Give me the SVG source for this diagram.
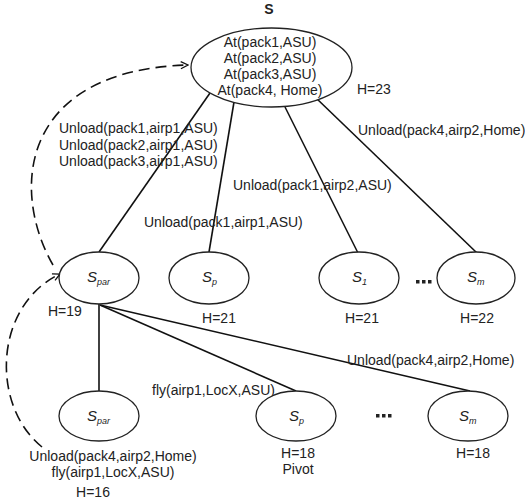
<svg xmlns="http://www.w3.org/2000/svg" width="525" height="499" viewBox="0 0 525 499">
<style>
text{font-family:"Liberation Sans",Arial,sans-serif;font-size:14px;fill:#222}
.m{text-anchor:middle}
.n{fill:#fff;stroke:#222;stroke-width:1.3}
.e{stroke:#111;stroke-width:1.6;fill:none}
.d{stroke:#111;stroke-width:1.6;fill:none;stroke-dasharray:11 6}
.s{font-style:italic;font-size:15px}
.sub{font-style:italic;font-size:9px}
.dot{fill:#222}
</style>
<defs>
<marker id="ar" viewBox="0 0 10 10" refX="9" refY="5" markerWidth="9" markerHeight="9" markerUnits="userSpaceOnUse" orient="auto">
<path d="M1 1 L9 5 L1 9" fill="none" stroke="#111" stroke-width="1.4"/>
</marker>
<g id="dots"><rect class="dot" x="0" y="0" width="3.5" height="3.5"/><rect class="dot" x="6" y="0" width="3.5" height="3.5"/><rect class="dot" x="12" y="0" width="3.5" height="3.5"/></g>
</defs>
<g id="connectors">
<line class="e" x1="210" y1="93" x2="99" y2="252"/>
<line class="e" x1="234" y1="102" x2="209" y2="252"/>
<line class="e" x1="285" y1="107" x2="358" y2="253"/>
<line class="e" x1="315" y1="97" x2="477" y2="253"/>
<line class="e" x1="99" y1="304" x2="99" y2="392"/>
<line class="e" x1="100" y1="305" x2="296" y2="391"/>
<line class="e" x1="100" y1="305" x2="470" y2="391"/>
<path class="d" d="M53 265 C10 190,20 70,188 65" marker-end="url(#ar)"/>
<path class="d" d="M42 447 C-10 405,-6 305,60 274" marker-end="url(#ar)"/>
<text x="59" y="133">Unload(pack1,airp1,ASU)</text>
<text x="59" y="150">Unload(pack2,airp1,ASU)</text>
<text x="59" y="166">Unload(pack3,airp1,ASU)</text>
<text x="144" y="227">Unload(pack1,airp1,ASU)</text>
<text x="233" y="190">Unload(pack1,airp2,ASU)</text>
<text x="358" y="135">Unload(pack4,airp2,Home)</text>
<text x="152" y="395">fly(airp1,LocX,ASU)</text>
<text x="347" y="365">Unload(pack4,airp2,Home)</text>
</g>
<g id="S">
<text class="m" x="269" y="14" style="font-weight:bold">S</text>
<ellipse class="n" cx="271.5" cy="67.5" rx="80.5" ry="39.5"/>
<text class="m" x="270" y="47">At(pack1,ASU)</text>
<text class="m" x="270" y="63">At(pack2,ASU)</text>
<text class="m" x="270" y="79">At(pack3,ASU)</text>
<text class="m" x="270" y="95">At(pack4, Home)</text>
<text x="357" y="94">H=23</text>
</g>
<g id="Spar1">
<ellipse class="n" cx="99" cy="278" rx="40" ry="26"/>
<text x="87" y="282"><tspan class="s">S</tspan><tspan class="sub" dy="3">par</tspan></text>
<text x="48" y="316">H=19</text>
</g>
<g id="Sp1">
<ellipse class="n" cx="209" cy="278" rx="40" ry="26"/>
<text x="202" y="282"><tspan class="s">S</tspan><tspan class="sub" dy="3">p</tspan></text>
<text class="m" x="219" y="323">H=21</text>
</g>
<g id="S1">
<ellipse class="n" cx="359" cy="278" rx="40" ry="26"/>
<text x="352" y="282"><tspan class="s">S</tspan><tspan class="sub" dy="3">1</tspan></text>
<text class="m" x="362" y="323">H=21</text>
</g>
<use href="#dots" x="416" y="280"/>
<g id="Sm1">
<ellipse class="n" cx="476" cy="278" rx="39" ry="26"/>
<text x="467" y="282"><tspan class="s">S</tspan><tspan class="sub" dy="3">m</tspan></text>
<text class="m" x="477" y="323">H=22</text>
</g>
<g id="Spar2">
<ellipse class="n" cx="99" cy="416" rx="40" ry="25"/>
<text x="87" y="421"><tspan class="s">S</tspan><tspan class="sub" dy="3">par</tspan></text>
<text class="m" x="113" y="461">Unload(pack4,airp2,Home)</text>
<text class="m" x="113" y="477">fly(airp1,LocX,ASU)</text>
<text class="m" x="93" y="497">H=16</text>
</g>
<g id="Sp2">
<ellipse class="n" cx="296" cy="416" rx="40" ry="25"/>
<text x="289" y="421"><tspan class="s">S</tspan><tspan class="sub" dy="3">p</tspan></text>
<text class="m" x="298" y="458">H=18</text>
<text class="m" x="298" y="474">Pivot</text>
</g>
<use href="#dots" x="376" y="414"/>
<g id="Sm2">
<ellipse class="n" cx="468" cy="416" rx="40" ry="25"/>
<text x="459" y="421"><tspan class="s">S</tspan><tspan class="sub" dy="3">m</tspan></text>
<text class="m" x="473" y="458">H=18</text>
</g>
</svg>
